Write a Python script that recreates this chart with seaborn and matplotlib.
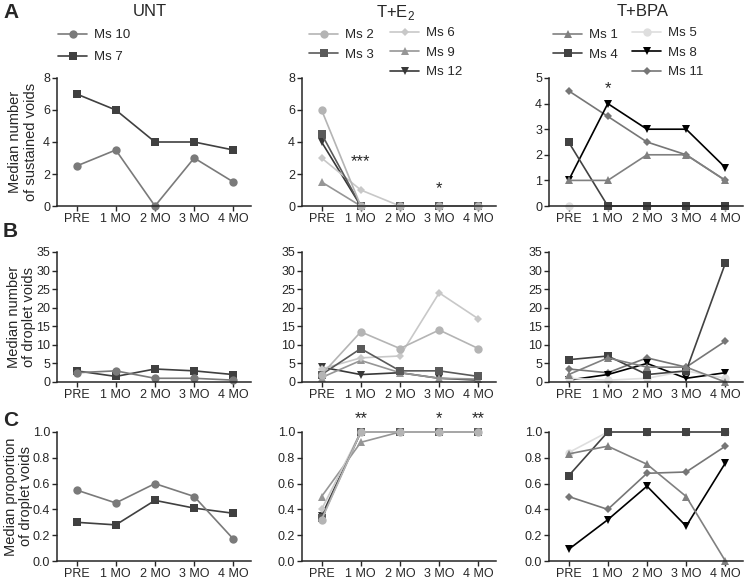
import numpy as np
import matplotlib.pyplot as plt
import seaborn as sns
from matplotlib.lines import Line2D

# DATA

timepoints = ["PRE", "1 MO", "2 MO", "3 MO", "4 MO"]

# A - median number of sustained voids
unt_sus = {
    "Ms 10": [2.5, 3.5, 0, 3, 1.5],
    "Ms 7": [7, 6, 4, 4, 3.5],
}
e2_sus = {
    "Ms 2": [6, 0, 0, 0, 0],
    "Ms 3": [4.5, 0, 0, 0, 0],
    "Ms 6": [3, 1, 0, 0, 0],
    "Ms 9": [1.5, 0, 0, 0, 0],
    "Ms 12": [4, 0, 0, 0, 0],
}
bpa_sus = {
    "Ms 1": [1, 1, 2, 2, 1],
    "Ms 4": [2.5, 0, 0, 0, 0],
    "Ms 5": [0, 0, 0, 0, 0],
    "Ms 8": [1, 4, 3, 3, 1.5],
    "Ms 11": [4.5, 3.5, 2.5, 2, 1],
}

# B - median number of droplet voids
unt_drop = {
    "Ms 10": [2.5, 3, 1, 1, 0.5],
    "Ms 7": [3, 1.5, 3.5, 3, 2],
}
e2_drop = {
    "Ms 2": [2, 13.5, 9, 14, 9],
    "Ms 3": [2, 9, 3, 3, 1.5],
    "Ms 6": [3.5, 6.5, 7, 24, 17],
    "Ms 9": [1.2, 5.8, 2.5, 1, 0.8],
    "Ms 12": [4, 2, 2.5, 1, 0.5],
}
bpa_drop = {
    "Ms 1": [2, 6.5, 4, 4, 0],
    "Ms 4": [6, 7, 2, 3, 32],
    "Ms 5": [1, 0.5, 1, 3, 1],
    "Ms 8": [0.5, 2, 5, 1, 2.5],
    "Ms 11": [3.5, 2.5, 6.5, 4, 11],
}

# C - median proportion of droplet voids
unt_prop = {
    "Ms 10": [0.55, 0.45, 0.6, 0.5, 0.17],
    "Ms 7": [0.3, 0.28, 0.47, 0.41, 0.37],
}
e2_prop = {
    "Ms 2": [0.32, 1, 1, 1, 1],
    "Ms 3": [0.33, 1, 1, 1, 1],
    "Ms 6": [0.4, 1, 1, 1, 1],
    "Ms 9": [0.5, 0.92, 1, 1, 1],
    "Ms 12": [0.35, 1, 1, 1, 1],
}
bpa_prop = {
    "Ms 1": [0.83, 0.89, 0.75, 0.5, 0],
    "Ms 4": [0.66, 1, 1, 1, 1],
    "Ms 5": [0.84, 1, 1, 1, 1],
    "Ms 8": [0.09, 0.32, 0.58, 0.27, 0.76],
    "Ms 11": [0.5, 0.4, 0.68, 0.69, 0.89],
}

# significance marks: (timepoint index, y value, text)
e2_sus_sig = [(1, 2.8, "***"), (3, 1.1, "*")]
bpa_sus_sig = [(1, 4.6, "*")]
e2_prop_sig = [(1, 1.1, "**"), (3, 1.1, "*"), (4, 1.1, "**")]

# STYLES

styles = {
    "Ms 10": ("o", "#7a7a7a", 6),
    "Ms 7": ("s", "#404040", 6),
    "Ms 2": ("o", "#b4b4b4", 6),
    "Ms 3": ("s", "#5a5a5a", 6),
    "Ms 6": ("D", "#c8c8c8", 4),
    "Ms 9": ("^", "#969696", 6),
    "Ms 12": ("v", "#383838", 6),
    "Ms 1": ("^", "#808080", 6),
    "Ms 4": ("s", "#424242", 6),
    "Ms 5": ("o", "#dedede", 6),
    "Ms 8": ("v", "#000000", 6),
    "Ms 11": ("D", "#767676", 4),
}

sns.set_style("ticks")
plt.rcParams['font.family'] = ['Liberation Sans', 'DejaVu Sans']
plt.rcParams['mathtext.fontset'] = 'custom'
plt.rcParams['mathtext.rm'] = 'Liberation Sans'

fig = plt.figure(figsize=(7.45, 5.79), dpi=100)

col_left = [57 / 745, 302 / 745, 549 / 745]
ax_w = 194 / 745
row_bottom = [1 - 206 / 579, 1 - 382 / 579, 1 - 561 / 579]
row_h = [128 / 579, 130 / 579, 129 / 579]

data_grid = [
    [unt_sus, e2_sus, bpa_sus],
    [unt_drop, e2_drop, bpa_drop],
    [unt_prop, e2_prop, bpa_prop],
]
sig_grid = {(0, 1): e2_sus_sig, (0, 2): bpa_sus_sig, (2, 1): e2_prop_sig}
ylims = [[8, 8, 5], [35, 35, 35], [1, 1, 1]]
yticks = [
    [np.arange(0, 9, 2), np.arange(0, 9, 2), np.arange(0, 6, 1)],
    [np.arange(0, 36, 5)] * 3,
    [np.arange(0, 1.01, 0.2)] * 3,
]
ylabels = ["Median number\nof sustained voids",
           "Median number\nof droplet voids",
           "Median proportion\nof droplet voids"]
ylabel_x = [-0.10, -0.11, -0.125]

x = np.arange(len(timepoints))

for r in range(3):
    for c in range(3):
        ax = fig.add_axes([col_left[c], row_bottom[r], ax_w, row_h[r]])
        # last mouse first, so the first ones sit on top
        for name, vals in reversed(list(data_grid[r][c].items())):
            marker, color, ms = styles[name]
            sns.lineplot(x=x, y=vals, marker=marker, color=color,
                         markersize=ms, markeredgewidth=0, linewidth=1.2,
                         ax=ax, clip_on=False)
        ax.set_xlim(-0.5, 4.45)
        ax.set_ylim(0, ylims[r][c])
        ax.set_yticks(yticks[r][c])
        if r == 2:
            ax.set_yticklabels([f"{v:.1f}" for v in yticks[r][c]])
        ax.set_xticks(x)
        ax.set_xticklabels(timepoints)
        ax.tick_params(labelsize=9, length=3.5, width=1, pad=1.5)
        for s in ["left", "bottom"]:
            ax.spines[s].set_linewidth(1.1)
        sns.despine(ax=ax)
        if c == 0:
            ax.set_ylabel(ylabels[r], fontsize=10.5, linespacing=1.1)
            ax.yaxis.set_label_coords(ylabel_x[r], 0.5)
        for (xi, yv, txt) in sig_grid.get((r, c), []):
            ax.text(xi, yv, txt, ha="center", va="center", fontsize=12,
                    clip_on=False)

# titles and panel letters
titles = ["UNT", "T+E$_2$", "T+BPA"]
for c in range(3):
    fig.text(col_left[c] + ax_w / 2 - 0.005, 1 - 12 / 579, titles[c],
             ha="center", va="center", fontsize=12)
for letter, yp in zip(["A", "B", "C"], [12, 232, 420]):
    fig.text(3 / 745, 1 - yp / 579, letter, ha="left", va="center",
             fontsize=15, fontweight="bold")


def make_handles(names):
    hs = []
    for n in names:
        marker, color, ms = styles[n]
        hs.append(Line2D([0], [0], marker=marker, color=color, markersize=ms,
                         markeredgewidth=0, linewidth=1.2, label=n))
    return hs


legend_groups = [
    (["Ms 10", "Ms 7"], 58, 29, 0.75),
    (["Ms 2", "Ms 3"], 309, 29, 0.55),
    (["Ms 6", "Ms 9", "Ms 12"], 390, 27, 0.55),
    (["Ms 1", "Ms 4"], 553, 29, 0.55),
    (["Ms 5", "Ms 8", "Ms 11"], 632, 27, 0.55),
]
for names, lx, ly, sp in legend_groups:
    fig.legend(handles=make_handles(names), loc="upper left",
               bbox_to_anchor=(lx / 745, 1 - ly / 579),
               frameon=False, fontsize=9.5, handlelength=2.2,
               handletextpad=0.5, labelspacing=sp, borderaxespad=0,
               borderpad=0)

plt.savefig("out.png", dpi=100)
